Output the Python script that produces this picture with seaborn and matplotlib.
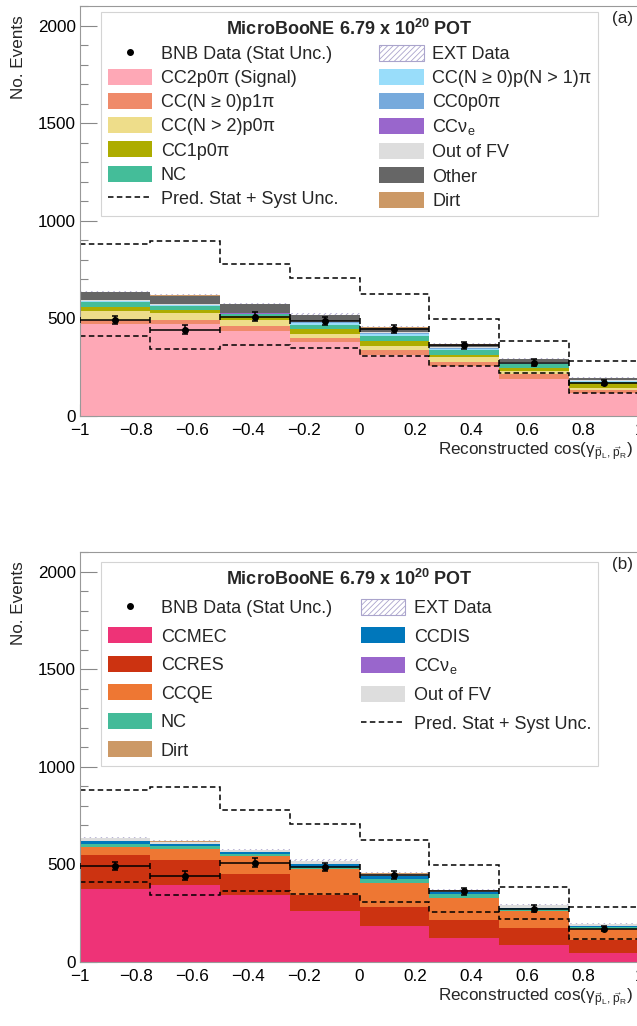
import numpy as np
import pandas as pd
import matplotlib
matplotlib.use("Agg")
import matplotlib.pyplot as plt
import seaborn as sns
from matplotlib.patches import Patch
from matplotlib.lines import Line2D
from matplotlib.ticker import MultipleLocator

# Binning of reconstructed cos(gamma)
bin_edges = np.linspace(-1.0, 1.0, 9)
bin_centers = 0.5 * (bin_edges[1:] + bin_edges[:-1])

# Data and prediction band (same in both panels)
bnb_data = np.array([492, 443, 508, 486, 444, 362, 274, 170])
pred_upper = [881, 895, 780, 705, 625, 495, 382, 282]
pred_lower = [409, 343, 364, 349, 308, 256, 218, 119]
ext_data = [6, 6, 4, 7, 7, 7, 7, 6]
dirt = [2, 2, 2, 2, 2, 2, 1, 1]

# Panel (a): event topology categories
cc2p0pi = [471, 469, 437, 377, 310, 256, 189, 119]
cc_p1pi = [20, 22, 25, 21, 28, 22, 26, 14]
cc_n2p0pi = [48, 35, 31, 22, 22, 22, 17, 8]
cc1p0pi = [21, 17, 21, 25, 24, 15, 15, 26]
nc_a = [22, 18, 6, 23, 25, 23, 17, 9]
cc_pnpi = [5, 5, 4, 10, 11, 7, 7, 3]
cc0p0pi = [1, 1, 1, 2, 3, 1, 2, 1]
ccnue_a = [1, 1, 1, 1, 1, 1, 1, 0.5]
oofv_a = [6, 5, 3, 7, 7, 8, 4, 3.5]
other_a = [38, 43, 43, 29, 22, 11, 12, 9]

# Panel (b): interaction modes
ccmec = [372, 396, 345, 260, 186, 121, 87, 48]
ccres = [177, 128, 104, 81, 97, 94, 85, 65]
ccqe = [40, 55, 93, 133, 122, 115, 89, 58]
nc_b = [17, 17, 11, 12, 21, 17, 9, 9]
ccdis = [13, 9, 9, 14, 13, 9, 8, 5]
ccnue_b = [1, 1, 1, 1, 1, 1, 1, 0.5]
oofv_b = [13, 10, 9, 16, 13, 9, 11, 7.5]

NUE = "CCν$_\\mathrm{e}$"
EXT_HATCH = "#aaa4cc"

# stack order: bottom first
stack_a = {
    "CC2p0π (Signal)": (cc2p0pi, "#fea8b6"),
    "CC(N ≥ 0)p1π": (cc_p1pi, "#ef8a6a"),
    "CC(N > 2)p0π": (cc_n2p0pi, "#eedd8a"),
    "CC1p0π": (cc1p0pi, "#adac00"),
    "NC": (nc_a, "#44bd99"),
    "CC(N ≥ 0)p(N > 1)π": (cc_pnpi, "#99ddfa"),
    "CC0p0π": (cc0p0pi, "#77aadc"),
    NUE: (ccnue_a, "#9966cc"),
    "Out of FV": (oofv_a, "#dddddd"),
    "Other": (other_a, "#666666"),
    "Dirt": (dirt, "#cc9966"),
    "EXT Data": (ext_data, "#ffffff"),
}
stack_b = {
    "CCMEC": (ccmec, "#ee3377"),
    "CCRES": (ccres, "#cc3311"),
    "CCQE": (ccqe, "#ee7733"),
    "NC": (nc_b, "#44bb99"),
    "CCDIS": (ccdis, "#0077bb"),
    NUE: (ccnue_b, "#9966cc"),
    "Out of FV": (oofv_b, "#dddddd"),
    "Dirt": (dirt, "#cc9966"),
    "EXT Data": (ext_data, "#ffffff"),
}

legend_a = [["BNB", "CC2p0π (Signal)", "CC(N ≥ 0)p1π", "CC(N > 2)p0π", "CC1p0π", "NC", "PRED"],
            ["EXT Data", "CC(N ≥ 0)p(N > 1)π", "CC0p0π", NUE, "Out of FV", "Other", "Dirt"]]
legend_b = [["BNB", "CCMEC", "CCRES", "CCQE", "NC", "Dirt"],
            ["EXT Data", "CCDIS", NUE, "Out of FV", "PRED"]]

sns.set_style("ticks")
plt.rcParams["font.family"] = ["Liberation Sans", "DejaVu Sans"]
plt.rcParams["mathtext.fontset"] = "custom"
plt.rcParams["mathtext.rm"] = "Liberation Sans"
plt.rcParams["mathtext.it"] = "Liberation Sans:italic"
plt.rcParams["mathtext.bf"] = "Liberation Sans:bold"
plt.rcParams["hatch.color"] = EXT_HATCH
plt.rcParams["hatch.linewidth"] = 0.6

FS_TICK = 12.3
FS_LEG = 13
DASH = (0, (3.6, 2.2))


def draw_panel(ax, stack, legend_cols, tag, legend_top, label_spacing):
    df = pd.concat([pd.DataFrame({"x": bin_centers, "w": vals, "cat": name})
                    for name, (vals, col) in stack.items()], ignore_index=True)
    palette = {name: col for name, (vals, col) in stack.items()}
    sns.histplot(data=df, x="x", weights="w", hue="cat", hue_order=list(stack)[::-1],
                 multiple="stack", binwidth=0.25, binrange=(-1, 1), element="step",
                 palette=palette, alpha=1, linewidth=0, legend=False, ax=ax)
    # EXT gets a hatch
    for coll in ax.collections:
        fc = coll.get_facecolor()
        if len(fc) and np.allclose(fc[0][:3], 1.0):
            coll.set_hatch("//////")
            coll.set_edgecolor(EXT_HATCH)
            coll.set_linewidth(0)

    ax.stairs(pred_upper, bin_edges, baseline=None, color="k", lw=1.1, ls=DASH)
    ax.stairs(pred_lower, bin_edges, baseline=None, color="k", lw=1.1, ls=DASH)
    ax.errorbar(bin_centers, bnb_data, yerr=np.sqrt(bnb_data), xerr=0.125, fmt="o",
                color="k", ms=4, lw=1.1, capsize=2.4, capthick=1.1, zorder=5)

    ax.set_xlim(-1, 1)
    ax.set_ylim(0, 2100)
    ax.xaxis.set_minor_locator(MultipleLocator(0.05))
    ax.yaxis.set_major_locator(MultipleLocator(500))
    ax.yaxis.set_minor_locator(MultipleLocator(100))
    ax.set_xticks([-1, -0.8, -0.6, -0.4, -0.2, 0, 0.2, 0.4, 0.6, 0.8, 1])
    ax.set_xticklabels(["−1", "−0.8", "−0.6", "−0.4", "−0.2", "0", "0.2", "0.4", "0.6", "0.8", "1"])
    ax.tick_params(which="both", direction="in", color="#888888", labelcolor="k",
                   labelsize=FS_TICK, top=False, right=False, width=0.8)
    ax.tick_params(axis="y", which="major", length=12.2, pad=3)
    ax.tick_params(axis="y", which="minor", length=6.1)
    ax.tick_params(axis="x", which="major", length=8.8, pad=5)
    ax.tick_params(axis="x", which="minor", length=4.4)
    for sp in ax.spines.values():
        sp.set_color("#999999")
        sp.set_linewidth(0.8)

    ax.set_xlabel("Reconstructed cos(γ$_{\\vec{\\mathrm{p}}_{\\mathrm{L}},\\,\\vec{\\mathrm{p}}_{\\mathrm{R}}}$)",
                  fontsize=FS_TICK, loc="right")
    ax.xaxis.set_label_coords(0.99, -0.06)
    ax.set_ylabel("No. Events", fontsize=FS_TICK, loc="top")
    ax.yaxis.set_label_coords(-0.097, 0.978)
    ax.text(0.99, 0.988, tag, transform=ax.transAxes, ha="right", va="top", fontsize=FS_TICK)

    handles = {
        "BNB": (Line2D([], [], marker="o", ls="none", color="k", ms=4), "BNB Data (Stat Unc.)"),
        "PRED": (Line2D([], [], color="k", lw=1.1, ls=DASH), "Pred. Stat + Syst Unc."),
        "EXT Data": (Patch(facecolor="white", edgecolor=EXT_HATCH, hatch="//////", lw=0.8), "EXT Data"),
    }
    hs, ls = [], []
    for col in legend_cols:
        for key in col:
            if key in handles:
                h, lab = handles[key]
            else:
                h, lab = Patch(facecolor=stack[key][1], edgecolor="none"), key
            hs.append(h)
            ls.append(lab)
    leg = ax.legend(hs, ls, ncol=2, loc="upper left", mode="expand",
                    bbox_to_anchor=(0.0376, legend_top, 0.889, 0), borderaxespad=0,
                    fancybox=False, framealpha=1, edgecolor="#d4d4d4", fontsize=FS_LEG,
                    handlelength=2.48, handleheight=0.99, handletextpad=0.48,
                    borderpad=0.36, labelspacing=label_spacing,
                    title="MicroBooNE 6.79 x 10$^{\\mathbf{20}}$ POT",
                    title_fontproperties={"weight": "bold", "size": FS_LEG})
    leg.get_frame().set_linewidth(0.8)


fig = plt.figure(figsize=(6.37, 10.26), dpi=100)
ax_a = fig.add_axes([80 / 637, 1 - 416 / 1026, 559 / 637, 410 / 1026])
ax_b = fig.add_axes([80 / 637, 1 - 962 / 1026, 559 / 637, 410 / 1026])

draw_panel(ax_a, stack_a, legend_a, "(a)", 0.985, 0.33)
draw_panel(ax_b, stack_b, legend_b, "(b)", 0.9756, 0.57)

fig.savefig("out.png", dpi=100)
